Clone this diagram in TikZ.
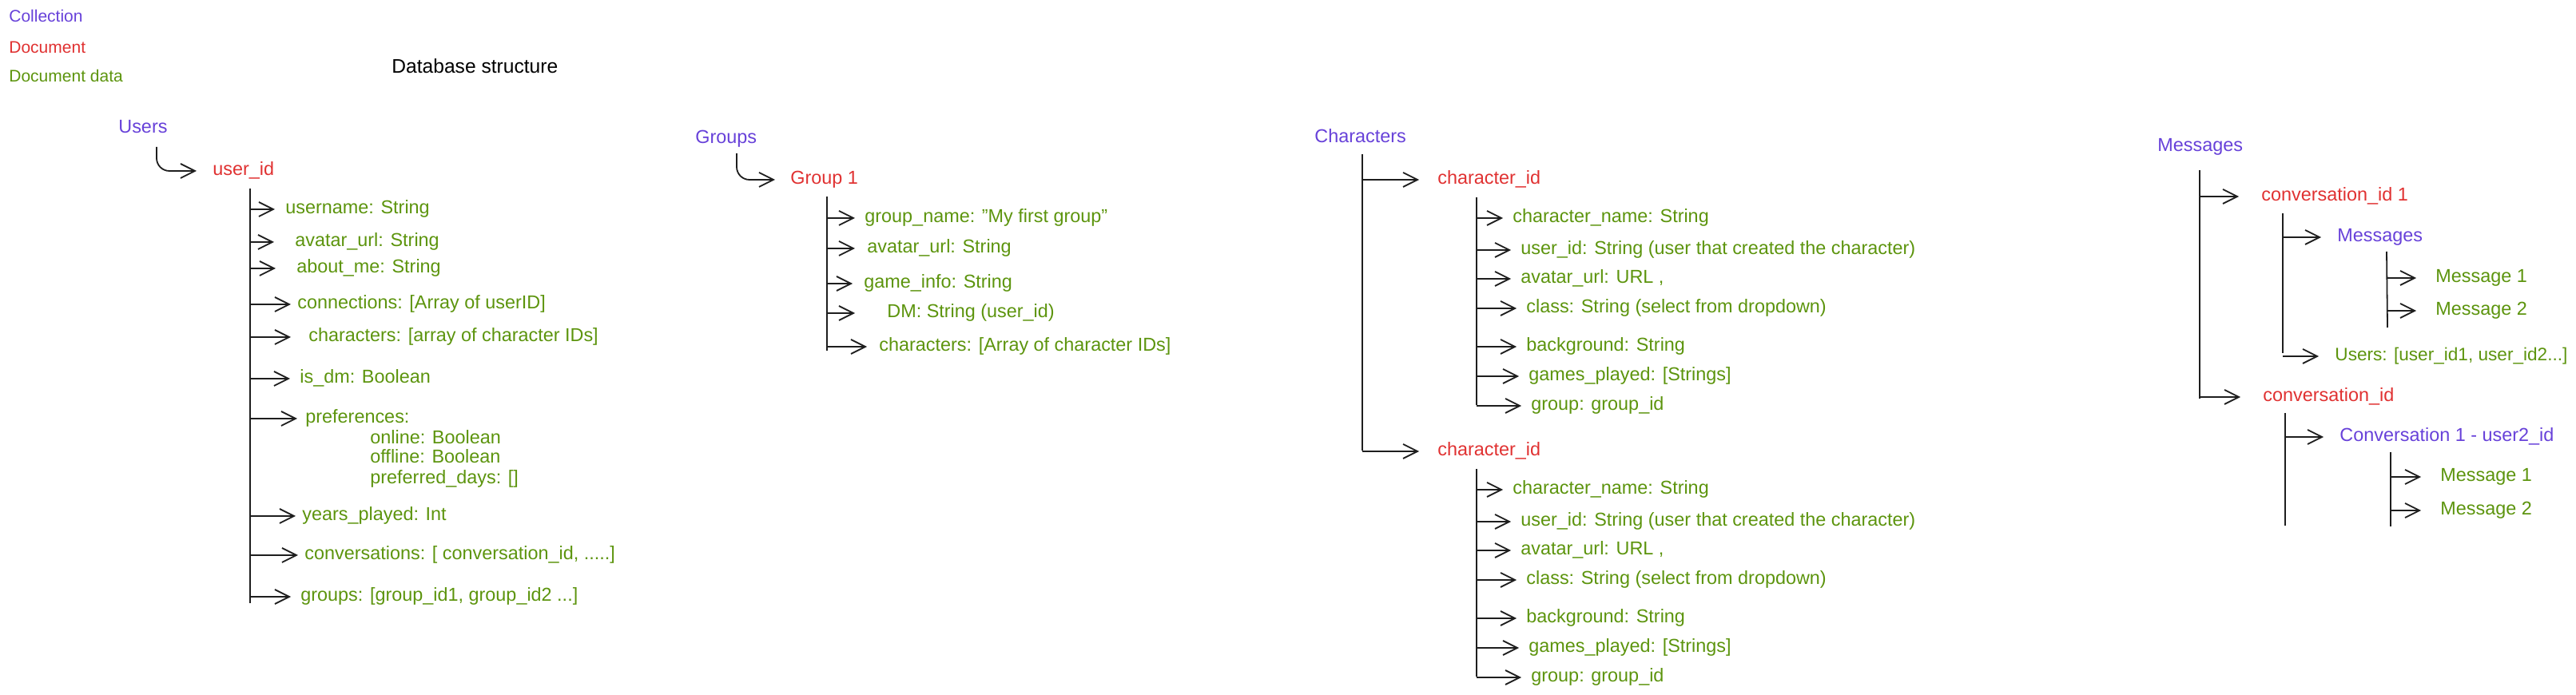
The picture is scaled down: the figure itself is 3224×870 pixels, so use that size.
\documentclass[tikz,border=0pt]{standalone}
\usepackage{fontspec}
\setmainfont{Liberation Sans}
\usetikzlibrary{arrows.meta}
\definecolor{collcol}{HTML}{6741D9}
\definecolor{doccol}{HTML}{E03131}
\definecolor{datacol}{HTML}{5C940D}
\definecolor{inkcol}{HTML}{1E1E1E}

\begin{document}
\begin{tikzpicture}[x=.5pt,y=-.5pt,
  every node/.style={anchor=west,inner sep=0pt,text height=8.5pt,text depth=2.5pt,font=\fontsize{11.7}{14}\selectfont},
  colltext/.style={text=collcol},
  doctext/.style={text=doccol},
  datatext/.style={text=datacol},
  legend/.style={font=\fontsize{10.5}{13}\selectfont},
  trunk/.style={draw=inkcol,line width=.9pt},
  arr/.style={draw=inkcol,line width=.9pt,-{Straight Barb[length=9pt,width=9pt]}}]
\useasboundingbox (0,0) rectangle (3224,870);

\node[colltext,legend] (lcoll) at (11,22) {Collection};
\node[doctext,legend] (ldoc) at (11,61) {Document};
\node[datatext,legend] (ldata) at (11,97) {Document data};
\node[font=\fontsize{12.3}{14}\selectfont] (title) at (490,86) {Database structure};

\node[colltext] (users) at (148,161) {Users};
\node[doctext] (uid) at (266,214) {user\_id};
\coordinate (uhook) at (196,184);
\draw[arr,rounded corners=8pt,shorten >=10pt] (uhook) |- (uid.west);
\coordinate (utop) at (313,236);
\coordinate (ubot) at (313,755);
\draw[trunk] (utop) -- (ubot);
\foreach \x/\y/\gp/\txt [count=\i] in {
  357/262/6.5pt/{username: String},
  369/303/13pt/{avatar\_url: String},
  371/336/13pt/{about\_me: String},
  372/381/4pt/{connections: [Array of userID]},
  386/422/11pt/{characters: [array of character IDs]},
  375/474/6pt/{is\_dm: Boolean},
  382/524/5pt/{preferences:},
  378/646/4pt/{years\_played: Int},
  381/695/4pt/{conversations: [ conversation\_id, .....]},
  376/747/6pt/{groups: [group\_id1, group\_id2 ...]}}{
  \node[datatext] (uf\i) at (\x,\y) {\txt};
  \draw[arr,shorten >=\gp] (utop |- uf\i.west) -- (uf\i.west);
}
\foreach \y/\txt [count=\i] in {550/{online: Boolean},574/{offline: Boolean},600/{preferred\_days: []}}
  \node[datatext] (pref\i) at (463,\y) {\txt};

\node[colltext] (groups) at (870,174) {Groups};
\node[doctext] (grp) at (989,225) {Group 1};
\coordinate (ghook) at (922,192);
\draw[arr,rounded corners=8pt,shorten >=9.5pt] (ghook) |- (grp.west);
\coordinate (gtop) at (1035,246);
\coordinate (gbot) at (1035,439);
\draw[trunk] (gtop) -- (gbot);
\foreach \x/\y/\gp/\txt [count=\i] in {
  1082/273/6pt/{group\_name: "My first group"},
  1085/311/7.5pt/{avatar\_url: String},
  1081/355/7pt/{game\_info: String},
  1110/392/20pt/{DM: String (user\_id)},
  1100/434/7.5pt/{characters: [Array of character IDs]}}{
  \node[datatext] (gf\i) at (\x,\y) {\txt};
  \draw[arr,shorten >=\gp] (gtop |- gf\i.west) -- (gf\i.west);
}

\node[colltext] (chars) at (1645,173) {Characters};
\coordinate (chtop) at (1705,193);
\coordinate (chbot) at (1705,564);
\draw[trunk] (chtop) -- (chbot);
\foreach \dy/\k in {0/a,340/b}{
  \node[doctext] (cid\k) at (1799,225+\dy) {character\_id};
  \draw[arr,shorten >=11.5pt] (chtop |- cid\k.west) -- (cid\k.west);
  \coordinate (ftop\k) at (1848,247+\dy);
  \coordinate (fbot\k) at (1848,507+\dy);
  \draw[trunk] (ftop\k) -- (fbot\k);
  \foreach \x/\y/\txt [count=\i] in {
    1893/273/{character\_name: String},
    1903/313/{user\_id: String (user that created the character)},
    1903/349/{avatar\_url: URL ,},
    1910/386/{class: String (select from dropdown)},
    1910/434/{background: String},
    1913/471/{games\_played: [Strings]},
    1916/508/{group: group\_id}}{
    \node[datatext] (cf\k\i) at (\x,\y+\dy) {\txt};
    \draw[arr,shorten >=6pt] (ftop\k |- cf\k\i.west) -- (cf\k\i.west);
  }
}

\node[colltext] (msgs) at (2700,184) {Messages};
\coordinate (mtop) at (2753,213);
\coordinate (mbot) at (2753,499);
\draw[trunk] (mtop) -- (mbot);
\node[doctext] (conv1) at (2830,246) {conversation\_id 1};
\node[doctext] (conv2) at (2832,497) {conversation\_id};
\foreach \n in {conv1,conv2}
  \draw[arr,shorten >=14pt] (mtop |- \n.west) -- (\n.west);

\coordinate (catop) at (2857,267);
\coordinate (cabot) at (2857,442);
\draw[trunk] (catop) -- (cabot);
\node[colltext] (msub) at (2925,297) {Messages};
\node[datatext,font=\fontsize{11.3}{14}\selectfont] (cusers) at (2922,446) {Users: [user\_id1, user\_id2...]};
\foreach \n in {msub,cusers}
  \draw[arr,shorten >=10pt] (catop |- \n.west) -- (\n.west);
\coordinate (matop) at (2987,315);
\coordinate (mabot) at (2988,410);
\draw[trunk] (matop) -- (mabot);
\node[datatext] (msga1) at (3048,348) {Message 1};
\node[datatext] (msga2) at (3048,389) {Message 2};
\foreach \n in {msga1,msga2}
  \draw[arr,shorten >=12pt] (matop |- \n.west) -- (\n.west);

\coordinate (cbtop) at (2860,517);
\coordinate (cbbot) at (2860,658);
\draw[trunk] (cbtop) -- (cbbot);
\node[colltext] (csub) at (2928,547) {Conversation 1 - user2\_id};
\draw[arr,shorten >=10pt] (cbtop |- csub.west) -- (csub.west);
\coordinate (mbtop) at (2992,566);
\coordinate (mbbot) at (2992,659);
\draw[trunk] (mbtop) -- (mbbot);
\node[datatext] (msgb1) at (3054,597) {Message 1};
\node[datatext] (msgb2) at (3054,639) {Message 2};
\foreach \n in {msgb1,msgb2}
  \draw[arr,shorten >=12pt] (mbtop |- \n.west) -- (\n.west);
\end{tikzpicture}
\end{document}
